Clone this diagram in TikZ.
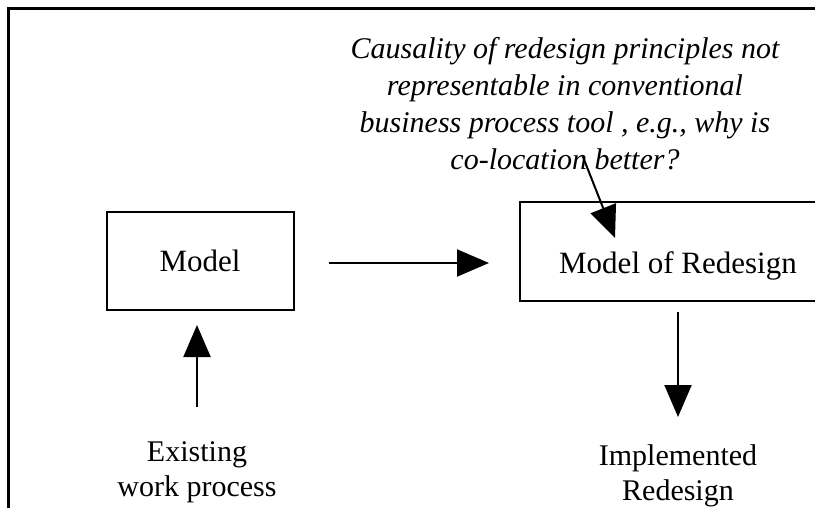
\documentclass[tikz,border=0pt]{standalone}
\usepackage{fontspec}
\setmainfont{Liberation Serif}
\usetikzlibrary{arrows.meta,positioning}

\begin{document}
\begin{tikzpicture}[x=0.5pt, y=-0.5pt,
    box/.style={rectangle, draw, line width=1pt, align=center, font=\fontsize{15.5}{18}\selectfont},
    label/.style={align=center, font=\fontsize{15}{17.5}\selectfont},
    note/.style={align=center, font=\fontsize{15}{18.5}\selectfont\itshape},
    arr/.style={line width=1pt, -{Triangle[length=16pt, width=13.5pt]}}
]
    \useasboundingbox (0,0) rectangle (815,508);
    \clip (0,0) rectangle (815,508);
    \draw[line width=1.5pt] (8,540) -- (8,9) -- (840,9);

    \node[box, minimum width=93.5pt, minimum height=49pt] (model) at (200,261) {Model};
    \node[box, minimum width=158pt, inner ysep=0pt, text height=35.5pt, text depth=14pt,
          anchor=base] (redesign) at (678,273) {Model of Redesign};

    \node[label] (existing) at (197,472) {Existing\\work process};
    \node[label] (implemented) at (678,476) {Implemented\\Redesign};
    \node[note] (cause) at (565,104) {Causality of redesign principles not\\representable in conventional\\business process tool , e.g., why is\\co-location better?};

    \draw[arr, shorten <=17pt, shorten >=15pt] (model.east |- 0,263) -- (redesign.west |- 0,263);
    \draw[arr] (197,407) -- (197,325);
    \draw[arr] (redesign.south |- 0,312) -- (implemented.north |- 0,417);
    \coordinate (from) at (583,157);
    \coordinate (hit) at (615,238);
    \draw[arr] (from) -- (hit);
\end{tikzpicture}
\end{document}
